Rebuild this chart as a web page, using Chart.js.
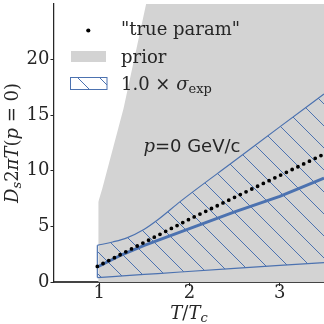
<!DOCTYPE html>
<html>
<head>
<meta charset="utf-8">
<script src="https://cdn.jsdelivr.net/npm/chart.js@4.4.1/dist/chart.umd.min.js"></script>
<style>
  html, body { margin: 0; padding: 0; background: #fff; }
</style>
</head>
<body>
<canvas id="chart" width="324" height="324"></canvas>
<script>
const xTicks = [1, 2, 3];
const yTicks = [0, 5, 10, 15, 20];

// prior: upper edge over T/Tc, filled down to 0
const priorT     = [0.99, 1.035, 1.27, 1.52, 1.6, 3.49];
const priorUpper = [7.2,  8.4,   15.6, 25.0, 27.5, 27.5];

// 1.0 x sigma_exp band
const bandT     = [0.98, 1.15, 1.3, 1.5, 1.65, 1.9, 2.5, 3.0, 3.49];
const bandUpper = [3.3, 3.6, 3.95, 4.75, 5.6, 7.25, 10.9, 13.95, 16.9];
const bandLower = [0.4, 0.49, 0.57, 0.68, 0.76, 0.9, 1.22, 1.49, 1.75];

// solid blue line inside the band
const medianT = [0.98, 1.25, 1.5, 2.0, 2.5, 3.0, 3.49];
const median  = [1.35, 2.45, 3.3, 4.8, 6.3, 7.7, 9.35];

// "true param" dots
const trueT   = [0.98, 2.0, 3.49];
const trueVal = [1.4, 5.65, 11.5];

const BLUE = '#4c72b0';
const GRAY = '#d3d3d3';
const INK = '#262626';
const SERIF = '"DejaVu Serif", serif';

const pts = (xs, ys) => xs.map((x, i) => ({ x: x, y: ys[i] }));

// hatch "\\" pattern
function makeHatch(size) {
    const c = document.createElement('canvas');
    c.width = size;
    c.height = size;
    const g = c.getContext('2d');
    g.strokeStyle = BLUE;
    g.lineWidth = 1;
    for (let k = -1; k <= 1; k++) {
        g.beginPath();
        g.moveTo(k * size, 0);
        g.lineTo(k * size + size, size);
        g.stroke();
    }
    return document.getElementById('chart').getContext('2d').createPattern(c, 'repeat');
}
const hatch = makeHatch(22);

// draw a row of differently styled text pieces
function drawRuns(ctx, runs, x, y, align) {
    let total = 0;
    runs.forEach(r => { ctx.font = r.font; total += ctx.measureText(r.t).width; });
    let cx = align === 'center' ? x - total / 2 : x;
    ctx.textBaseline = 'alphabetic';
    ctx.textAlign = 'left';
    runs.forEach(r => {
        ctx.font = r.font;
        ctx.fillText(r.t, cx, y + (r.dy || 0));
        cx += ctx.measureText(r.t).width;
    });
}

const it = (s) => 'italic ' + s + 'px ' + SERIF;
const rm = (s) => s + 'px ' + SERIF;

const overlay = {
    id: 'overlay',
    afterDraw(chart) {
        const ctx = chart.ctx;
        const xs = chart.scales.x, ys = chart.scales.y;
        ctx.save();
        ctx.fillStyle = INK;

        // y label
        ctx.save();
        ctx.translate(18, 143);
        ctx.rotate(-Math.PI / 2);
        drawRuns(ctx, [
            { t: 'D', font: it(18) },
            { t: 's', font: it(13), dy: 3 },
            { t: '2', font: rm(18) },
            { t: 'π', font: it(18) },
            { t: 'T', font: it(18) },
            { t: '(', font: rm(18) },
            { t: 'p', font: it(18) },
            { t: ' = ', font: rm(18) },
            { t: '0', font: rm(18) },
            { t: ')', font: rm(18) }
        ], 0, 0, 'center');
        ctx.restore();

        // x label
        drawRuns(ctx, [
            { t: 'T', font: it(18) },
            { t: '/', font: rm(18) },
            { t: 'T', font: it(18) },
            { t: 'c', font: it(13), dy: 3 }
        ], (chart.chartArea.left + chart.chartArea.right) / 2, 319, 'center');

        // annotation
        drawRuns(ctx, [
            { t: 'p', font: it(18) },
            { t: '=0 GeV/c', font: '18px "DejaVu Sans", sans-serif' }
        ], xs.getPixelForValue(1.49), ys.getPixelForValue(11.7), 'left');

        // legend
        ctx.fillStyle = '#000';
        ctx.beginPath();
        ctx.arc(88.3, 30.5, 2.1, 0, Math.PI * 2);
        ctx.fill();

        ctx.fillStyle = GRAY;
        ctx.fillRect(71, 51, 35, 11);

        ctx.fillStyle = hatch;
        ctx.fillRect(70.5, 77.5, 36.5, 12);
        ctx.strokeStyle = BLUE;
        ctx.lineWidth = 1;
        ctx.strokeRect(70.5, 77.5, 36.5, 12);

        ctx.fillStyle = INK;
        drawRuns(ctx, [{ t: '"true param"', font: rm(18) }], 121, 35, 'left');
        drawRuns(ctx, [{ t: 'prior', font: rm(18) }], 121, 63, 'left');
        drawRuns(ctx, [
            { t: '1.0', font: rm(18) },
            { t: ' × ', font: rm(18) },
            { t: 'σ', font: it(18) },
            { t: 'exp', font: rm(13), dy: 3 }
        ], 121, 90, 'left');

        ctx.restore();
    }
};

new Chart(document.getElementById('chart'), {
    type: 'line',
    data: {
        datasets: [
            {
                data: pts(trueT, trueVal),
                borderColor: '#000',
                borderWidth: 3.8,
                borderDash: [0, 6.4],
                borderCapStyle: 'round',
                pointRadius: 0,
                fill: false
            },
            {
                data: pts(medianT, median),
                borderColor: BLUE,
                borderWidth: 3,
                pointRadius: 0,
                fill: false
            },
            {
                data: pts(bandT, bandUpper),
                borderColor: BLUE,
                borderWidth: 1.2,
                backgroundColor: hatch,
                cubicInterpolationMode: 'monotone',
                pointRadius: 0,
                fill: '+1'
            },
            {
                data: pts(bandT, bandLower),
                borderColor: BLUE,
                borderWidth: 1.2,
                pointRadius: 0,
                fill: false
            },
            {
                data: [{ x: bandT[0], y: bandLower[0] }, { x: bandT[0], y: bandUpper[0] }],
                borderColor: BLUE,
                borderWidth: 1.2,
                pointRadius: 0,
                fill: false
            },
            {
                data: pts(priorT, priorUpper),
                borderWidth: 0,
                borderColor: GRAY,
                backgroundColor: GRAY,
                pointRadius: 0,
                fill: 'origin'
            }
        ]
    },
    options: {
        responsive: false,
        animation: false,
        events: [],
        layout: { padding: { top: 4, right: 0, bottom: 0, left: 0 } },
        plugins: { legend: { display: false }, tooltip: { enabled: false } },
        scales: {
            x: {
                type: 'linear',
                min: 0.5,
                max: 3.49,
                afterBuildTicks: s => { s.ticks = xTicks.map(v => ({ value: v })); },
                afterFit: s => { s.height = 42; s.paddingLeft = 0; s.paddingRight = 0; },
                grid: { drawOnChartArea: false, drawTicks: true, tickLength: 4, color: INK },
                border: { display: true, color: '#444', width: 2 },
                ticks: { color: INK, padding: -2, maxRotation: 0, font: { family: SERIF, size: 18, lineHeight: 1 } }
            },
            y: {
                min: 0,
                max: 25,
                afterBuildTicks: s => { s.ticks = yTicks.map(v => ({ value: v })); },
                afterFit: s => { s.width = 54; s.paddingTop = 0; s.paddingBottom = 0; },
                grid: { drawOnChartArea: false, drawTicks: true, tickLength: 3.5, color: INK },
                border: { display: true, color: INK, width: 1.25 },
                ticks: { color: INK, padding: 1, font: { family: SERIF, size: 18 } }
            }
        }
    },
    plugins: [overlay]
});
</script>
</body>
</html>
